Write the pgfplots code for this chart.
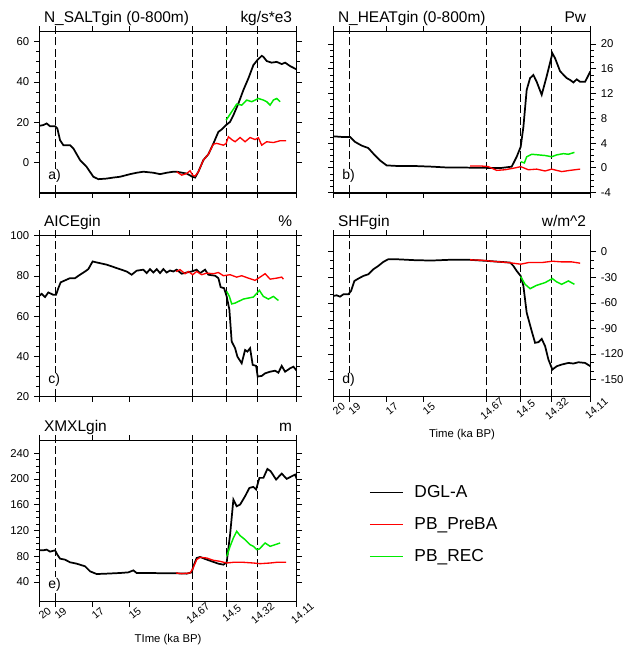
\documentclass[border=0pt]{standalone}
\usepackage{fontspec}
\setmainfont{Liberation Sans}
\usepackage{pgfplots}
\pgfplotsset{compat=1.18}

\definecolor{ngreen}{RGB}{0,235,0}
\newcommand{\titlefont}{\fontsize{11.6}{13}\selectfont}

% x is an index axis: 20 ka -> 0, 14.11 ka -> 257.4
\pgfplotsset{
  panel/.style={
    scale only axis, width=193.1pt, height=120.75pt, anchor=south west,
    xmin=0, xmax=257.4,
    xtick={0,15.7,53,90,153,186.7,217.7,257.4},
    xticklabels={},
    tick align=outside,
    major tick length=4pt, minor tick length=2.2pt,
    every tick/.style={black, line width=0.6pt},
    axis line style={line width=0.8pt},
    ticklabel style={font=\fontsize{8.5}{10}\selectfont},
    /pgf/number format/assume math mode=true,
    clip mode=individual,
  },
  withx/.style={
    xticklabels={20,19,17,15,14.67,14.5,14.32,14.11},
    xticklabel style={rotate=40, anchor=center, yshift=-6.5pt, font=\fontsize{8}{9}\selectfont},
  },
  blk/.style={black, line width=1.3pt},
  rd/.style={red, line width=1pt},
  gr/.style={ngreen, line width=1.1pt},
  vl/.style={black, line width=0.6pt, dash pattern=on 6pt off 2.5pt, forget plot},
}
\newcommand{\vlines}[2]{%
  \addplot[vl] coordinates {(15.7,#1)(15.7,#2)};
  \addplot[vl] coordinates {(153,#1)(153,#2)};
  \addplot[vl] coordinates {(186.7,#1)(186.7,#2)};
  \addplot[vl] coordinates {(217.7,#1)(217.7,#2)};
}
\newcommand{\heads}[3]{%
  \node[anchor=base west, font=\titlefont, yshift=6.9pt] at (rel axis cs:0,1) {#1};
  \node[anchor=base east, font=\titlefont, yshift=6.9pt] at (rel axis cs:1,1) {#2};
  \node[anchor=base west, font=\fontsize{10.5}{12}\selectfont, fill=white, inner sep=1pt,
        xshift=5.5pt, yshift=9.5pt] at (rel axis cs:0,0) {#3};
}

\begin{document}
\begin{tikzpicture}
\useasboundingbox (0,0) rectangle (470.25pt,489pt);

% a) N_SALTgin
\begin{axis}[panel, at={(29.5pt,344.5pt)},
  ymin=-15, ymax=65, ytick={0,20,40,60}, minor y tick num=3]
\vlines{-15}{65}
\addplot[blk] coordinates {
(0,18.2)(4,18.6)(7.3,19.4)(10.7,18)(15.7,18)(18,16.9)(20.7,11.1)(24,8.6)(30.7,8.6)(34,7)
(40.7,1.2)(47.3,-2.2)(54,-7.1)(59,-8.3)(67.3,-8)(74,-7.5)(80.7,-7.1)(90.7,-5.8)(97.3,-5.1)
(104,-4.6)(114,-5.1)(120.7,-5.8)(127.3,-5.1)(134,-4.6)(137.3,-4.6)(147.3,-5.5)(153,-7.1)
(155.7,-7.5)(159,-4.6)(164,1.2)(169,4.1)(174,9.4)(179,15.2)(182.3,16.4)(186.7,18.6)
(190.7,20.2)(194,23.5)(199,29.3)(204,36)(209,41.8)(214,48.4)(218,50.9)(222.3,53)(224,52.5)
(227.3,50.4)(232.3,49.6)(237.3,50)(242.3,48.9)(245.7,49.6)(250.7,47.9)(257.3,46.2)};
\addplot[rd] coordinates {
(137.3,-4.6)(142.3,-6.3)(147.3,-5.5)(150.7,-4.1)(153.3,-6.3)(155.7,-6.8)(159,-4.6)(164,1.2)
(169,4.1)(174,9.1)(177.3,9.5)(184,8.6)(186.7,9.4)(189,12.8)(192.3,11.4)(195.7,10.3)
(200.7,12.4)(205.7,10.3)(210.7,12.4)(215.7,11.4)(219,12.3)(222.3,8.6)(227.3,10.3)(234,9.9)
(240.7,10.8)(246.7,10.8)};
\addplot[gr] coordinates {
(186.7,21)(192.3,25.2)(197.3,29)(202.3,28.5)(207.3,31)(212.3,30.2)(219,31.8)(224,31)
(227.3,30.2)(230.7,28.5)(234,31)(237.3,31.8)(240.7,30.2)};
\draw[line width=1.4pt] (rel axis cs:0,0) -- (rel axis cs:1,0);
\heads{N\_SALTgin (0-800m)}{kg/s*e3}{a)}
\end{axis}

% b) N_HEATgin
\begin{axis}[panel, at={(250pt,344.5pt)},
  ymin=-4, ymax=22, ytick={-4,0,4,8,12,16,20}, minor y tick num=3,
  yticklabel pos=right]
\vlines{-4}{22}
\addplot[blk] coordinates {
(0,5.1)(8.3,5)(16.7,5)(21.7,4.2)(28.3,3.6)(35,3.2)(40,2.3)(46.7,1.2)(53.3,0.4)(65,0.3)
(81.7,0.3)(98.3,0.2)(115,0.05)(131.7,0.05)(153.3,0)(168.3,0)(178.3,0.2)(183.3,1.8)
(187.3,3.4)(190,6.6)(193.3,12.6)(196.7,14.5)(200,15)(203.3,13.9)(208.3,11.8)(213.3,14.8)
(219,18.5)(221.7,17.7)(226.7,15.6)(233.3,14.5)(236.7,14.2)(240,13.8)(243.3,14.3)
(246.7,13.9)(251.7,13.9)(257,15.6)};
\addplot[rd] coordinates {
(136.7,0.3)(148.3,0.3)(155,0.2)(163.3,-0.4)(171.7,-0.3)(181.7,0)(187.3,0.2)(195,-0.3)
(203.3,-0.2)(211.7,-0.5)(218.3,-0.2)(228.3,-0.6)(236.7,-0.4)(246.7,-0.2)};
\addplot[gr] coordinates {
(187.3,1)(191,0.8)(193.3,1.8)(198.3,2.2)(205,2.1)(211.7,2)(218.3,1.8)(223.3,2.1)(230,2.3)
(235,2.2)(241,2.5)};
\draw[line width=1.4pt] (rel axis cs:0,0) -- (rel axis cs:1,0);
\heads{N\_HEATgin (0-800m)}{Pw}{b)}
\end{axis}

% c) AICEgin
\begin{axis}[panel, at={(29.5pt,191.5pt)},
  ymin=20, ymax=100, ytick={20,40,60,80,100}, minor y tick num=3]
\vlines{20}{100}
\addplot[blk] coordinates {
(0,70.1)(2.3,71.1)(5.7,69.5)(9,71.8)(14,70.6)(16.7,70.6)(19,73.9)(21.3,76.8)(25.7,77.8)
(30.7,78.9)(35.7,78.9)(40.7,80.6)(45.7,82.2)(49,83.4)(53.3,87.2)(57.3,86.7)(67.3,85.6)
(77.3,83.9)(87.3,82.2)(92.3,80.6)(97.3,82.6)(104,83.1)(107.3,81.4)(110.7,83.4)(114,81.7)
(117.3,83.4)(120.7,81.4)(124,83.4)(127.3,81.7)(130.7,82.7)(134,82.2)(137.3,83.1)
(142.3,81.1)(147.3,81.7)(152.3,82.2)(157.3,83.1)(160.7,81.4)(165.7,83.1)(169,80.6)
(175.7,80.1)(179,78.9)(181.3,74.4)(184.7,73.9)(187.3,69.8)(190,63.2)(192.3,47.4)
(195.7,44.1)(198,39.9)(202.3,36.6)(205.7,43.2)(208,42.4)(210.7,44.1)(213.3,35.8)
(216.7,35.3)(218.3,30)(222.3,30.3)(225.7,31.6)(230.7,32.4)(235.7,32.9)(239,31.9)
(242.3,35.3)(245.7,32.4)(250.7,34.1)(254,34.9)(257.3,32.9)};
\addplot[rd] coordinates {
(136.7,82.2)(140.7,83.1)(145.7,81.1)(149,82.2)(153.3,80.6)(157.3,82.2)(162.3,80.6)
(167.3,81.4)(174,81.1)(179,81.7)(184,80.1)(190.7,80.6)(197.3,79.4)(202.3,80.1)(209,78.9)
(215.7,77.8)(220.7,79.4)(225.7,81.1)(230.7,78.4)(237.3,78.9)(242.3,79.4)(244,78.4)};
\addplot[gr] coordinates {
(187.3,72.3)(190,69.8)(192.3,66.1)(195.7,66.5)(199,67.3)(204,68.5)(209,69)(214,69.5)
(220,72.8)(224,69.8)(229,68.5)(234,69.8)(239,67.8)};
\heads{AICEgin}{\%}{c)}
\end{axis}

% d) SHFgin
\begin{axis}[panel, withx, at={(250pt,191.5pt)},
  ymin=-170, ymax=19, ytick={-150,-120,-90,-60,-30,0}, minor y tick num=2,
  yticklabel pos=right]
\vlines{-170}{19}
\addplot[blk] coordinates {
(0,-51.8)(3.3,-51)(6.7,-52.6)(10,-49.9)(15,-49.9)(17.7,-45.9)(21,-34.2)(25,-31.4)
(30,-28.3)(35,-26.3)(40,-20.4)(45,-16.5)(50,-11.8)(55,-8.6)(61.7,-8.6)(81.7,-9.8)
(98.3,-10.2)(115,-9.4)(136.7,-9.4)(153.3,-10.6)(176.7,-12.6)(180,-16.5)(183.3,-22.4)
(187.3,-28.3)(190,-40)(193.3,-71.5)(198.3,-93)(201.7,-106.8)(205,-106)(208.3,-102.1)
(211.7,-110.7)(215,-126.4)(219,-138.2)(223.3,-134.3)(228.3,-132.3)(235,-130.4)
(240,-131.1)(245,-129.6)(251.7,-130.4)(257,-134.3)};
\addplot[rd] coordinates {
(136.7,-9.4)(148.3,-9.8)(161.7,-11.4)(175,-12.6)(187.3,-14.5)(195,-12.6)(208.3,-12.6)
(219,-11)(228.3,-11.8)(238.3,-11.8)(246.7,-13.3)};
\addplot[gr] coordinates {
(187.3,-29.1)(191.7,-38.1)(196.7,-43.2)(203.3,-39.3)(211.7,-36.1)(219,-31.4)(223.3,-35.3)
(228.3,-38.1)(235,-34.2)(241,-38.1)};
\heads{SHFgin}{w/m\textasciicircum 2}{d)}
\node[anchor=base, font=\fontsize{8.5}{10}\selectfont, yshift=-31pt] at (rel axis cs:0.5,0) {Time (ka BP)};
\end{axis}

% e) XMXLgin
\begin{axis}[panel, withx, at={(29.5pt,38pt)},
  ymin=10, ymax=260, ytick={40,80,120,160,200,240}, minor y tick num=3,
  legend style={at={(1.281,0.476)}, anchor=west, draw=none, fill=none, inner sep=0pt,
    font=\fontsize{13}{15}\selectfont,
    nodes={inner sep=0pt, text height=9.5pt, text depth=3pt},
    row sep=11.5pt, column sep=8pt},
  legend cell align=left,
  legend image code/.code={\draw[#1, line width=0.8pt] (0pt,0pt) -- (25pt,0pt);}]
\vlines{10}{260}
\addplot[blk] coordinates {
(0,89.2)(4,89.2)(7.3,90.3)(10.7,87.2)(15.7,89.2)(18,82.5)(20.7,76.3)(25.7,74.7)(30.7,70.6)
(37.3,68.5)(45.7,64.4)(50.7,56.6)(57.3,52.4)(67.3,53)(80.7,54)(89,55)(94,58.1)(97.3,54)
(110.7,54)(127.3,53.5)(137.3,53.5)(147.3,53)(152.3,55)(154,64.4)(157.3,77.3)(160.7,78.9)
(165.7,75.8)(172.3,72.1)(179,68.5)(184,66.9)(187.3,70.6)(190.7,113.6)(194,168)(197.3,157.6)
(200.7,160.2)(205.7,173.2)(210,186.1)(214,187.7)(216.7,183.5)(220,201.7)(224,201.7)
(228,215.6)(231.3,212)(236.7,199.1)(242.3,208.4)(247.3,200.1)(252.3,204.2)(255.7,206.8)
(257.3,200.1)};
\addlegendentry{DGL-A}
\addplot[rd] coordinates {
(136.7,54)(142.3,53)(150.7,54)(153.3,60.2)(157.3,74.7)(160.7,78.3)(167.3,77.3)(174,73.7)
(180.7,72.1)(187.3,69.5)(194,70.6)(204,70.6)(214,69.5)(220.7,68.5)(230.7,69.5)(237.3,70.6)
(246.7,70.6)};
\addlegendentry{PB\_PreBA}
\addplot[gr] coordinates {
(187.3,79.9)(190.7,95.4)(194,108.4)(197.3,118.8)(200.7,112)(205.7,105.8)(210.7,98)
(214,95.4)(217.3,90.3)(220,91.3)(225.7,100.6)(230.7,95.4)(235.7,98)(240.7,100.6)};
\addlegendentry{PB\_REC}
\heads{XMXLgin}{m}{e)}
\node[anchor=base, font=\fontsize{8.5}{10}\selectfont, yshift=-31pt] at (rel axis cs:0.5,0) {TIme (ka BP)};
\end{axis}
\end{tikzpicture}
\end{document}
